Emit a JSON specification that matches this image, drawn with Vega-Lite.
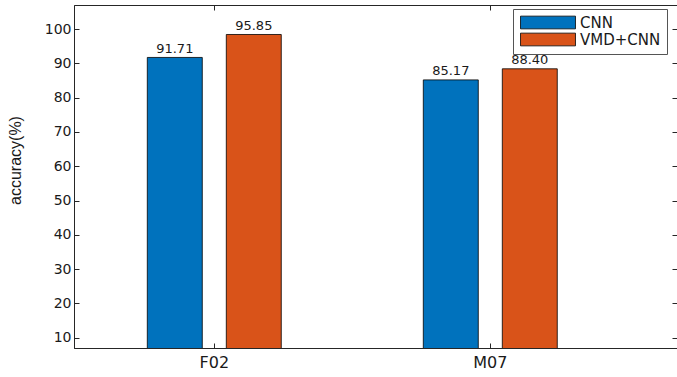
{
  "$schema": "https://vega.github.io/schema/vega-lite/v6.json",
  "autosize": {"type": "none"},
  "padding": {"left": 74, "top": 5, "right": 0, "bottom": 29},
  "width": 603,
  "height": 343,
  "background": "white",
  "config": {
    "view": {"stroke": "#262626", "strokeWidth": 1},
    "font": "DejaVu Sans",
    "axis": {"grid": false, "domainColor": "#262626", "tickColor": "#262626", "labelColor": "#1a1a1a", "titleColor": "#1a1a1a"}
  },
  "data": {
    "values": [
      {"group": "F02", "method": "CNN", "value": 91.71, "label": "91.71"},
      {"group": "F02", "method": "VMD+CNN", "value": 98.4, "label": "95.85"},
      {"group": "M07", "method": "CNN", "value": 85.17, "label": "85.17"},
      {"group": "M07", "method": "VMD+CNN", "value": 88.4, "label": "88.40"}
    ]
  },
  "resolve": {"axis": {"x": "independent", "y": "independent"}},
  "layer": [
    {
      "mark": {"type": "bar", "stroke": "black", "strokeWidth": 0.8, "clip": true},
      "encoding": {
        "x": {
          "field": "group", "type": "nominal",
          "scale": {"paddingInner": 0, "paddingOuter": 0.0924, "align": 0.045},
          "axis": {"title": null, "labelAngle": 0, "labelFontSize": 16, "tickSize": -5, "labelPadding": 11, "domainWidth": 1.2}
        },
        "xOffset": {
          "field": "method", "type": "nominal",
          "scale": {"paddingInner": 0.304, "paddingOuter": 0.899}
        },
        "y": {
          "field": "value", "type": "quantitative",
          "scale": {"domain": [7, 107], "nice": false, "zero": false},
          "axis": {
            "title": "accuracy(%)", "values": [10, 20, 30, 40, 50, 60, 70, 80, 90, 100],
            "labelFontSize": 14, "tickSize": -5, "labelPadding": 8,
            "titleFont": "Liberation Sans", "titleFontSize": 16, "titleFontWeight": "normal",
            "titleX": -59, "titleY": 155, "titleAlign": "center", "titleBaseline": "middle", "titleAngle": -90
          }
        },
        "color": {
          "field": "method", "type": "nominal",
          "scale": {"domain": ["CNN", "VMD+CNN"], "range": ["#0072BD", "#D95319"]},
          "legend": {
            "title": null, "orient": "none", "legendX": 439, "legendY": 4,
            "fillColor": "white", "strokeColor": "#555555", "padding": 6,
            "symbolType": "M-4.58,-1.06H4.58V1.06H-4.58Z", "symbolSize": 144,
            "symbolOffset": 21.5,
            "symbolStrokeColor": "black", "symbolStrokeWidth": 0.8, "symbolOpacity": 1,
            "labelFontSize": 15, "labelOffset": 24.5, "labelColor": "#1a1a1a", "rowPadding": 0
          }
        }
      }
    },
    {
      "mark": {"type": "text", "baseline": "alphabetic", "dy": -4.5, "fontSize": 13, "color": "#1a1a1a"},
      "encoding": {
        "x": {
          "field": "group", "type": "nominal",
          "axis": {"orient": "top", "title": null, "labels": false, "tickSize": -5, "domain": false}
        },
        "xOffset": {"field": "method", "type": "nominal"},
        "y": {
          "field": "value", "type": "quantitative",
          "axis": {"orient": "right", "title": null, "labels": false, "tickSize": -5, "domain": false, "values": [10, 20, 30, 40, 50, 60, 70, 80, 90, 100]}
        },
        "text": {"field": "label"}
      }
    }
  ]
}
